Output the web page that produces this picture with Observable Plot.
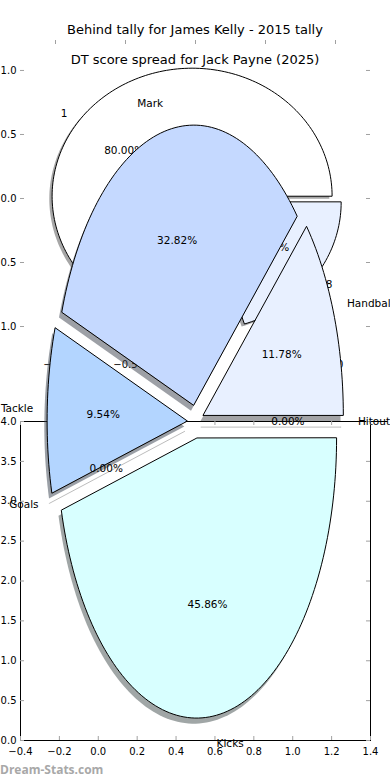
<!DOCTYPE html>
<html>
<head>
<meta charset="utf-8">
<script src="https://cdn.jsdelivr.net/npm/d3@7"></script>
<script src="https://cdn.jsdelivr.net/npm/@observablehq/plot@0.6"></script>
<style>
  html, body { margin: 0; padding: 0; background: white; overflow: hidden; }
  #wrap { position: relative; width: 390px; height: 780px; overflow: hidden; background: white; font-family: "DejaVu Sans", sans-serif; }
  .layer { position: absolute; left: 0; top: 0; }
  .layer svg { background: transparent !important; }
  .title { position: absolute; left: 0; width: 390px; text-align: center; font-size: 13px; line-height: 15px; color: #000; }
  #wm { position: absolute; left: 0; top: 762px; font-family: "Open Sans", sans-serif; font-size: 12px; font-weight: bold; color: #a8a8a8; line-height: 16px; }
</style>
</head>
<body>
<div id="wrap">
  <div id="f1" class="layer"></div>
  <div id="t1" class="title" style="top:22px"></div>
  <div id="f2" class="layer"></div>
  <div id="t2" class="title" style="top:52px"></div>
  <div id="wm"></div>
</div>
<script>
// ---------- data ----------
const fig1Title = "Behind tally for James Kelly - 2015 tally";
const fig1Labels = ["1", "8"];
const fig1Values = [80, 20];
const fig1Colors = ["#ffffff", "#e8f0ff"];
const fig1Explode = [0.03, 0.05];
const fig1Ticks = [-1, -0.5, 0, 0.5, 1];

const fig2Title = "DT score spread for Jack Payne (2025)";
const fig2Labels = ["Hitout", "Handball", "Mark", "Tackle", "Goals", "Kicks"];
const fig2Values = [0, 11.78, 32.82, 9.54, 0, 45.86];
const fig2Colors = ["#e8f0ff", "#e8f0ff", "#c5d9ff", "#b3d5ff", "#d8ffff", "#d8ffff"];
const fig2Explode = [0.06, 0.06, 0.06, 0.06, 0.06, 0.06];
const fig2XTicks = [-0.4, -0.2, 0.0, 0.2, 0.4, 0.6, 0.8, 1.0, 1.2, 1.4];
const fig2YTicks = [0.0, 0.5, 1.0, 1.5, 2.0, 2.5, 3.0, 3.5, 4.0];

const watermark = "Dream-Stats.com";

// ---------- helpers ----------
const fmt = d3.format(".1f");
const pctFmt = v => v.toFixed(2) + "%";

function layout(values, explode, cx, cy, rx, ry) {
  const total = d3.sum(values);
  let a = 0;
  return values.map((v, i) => {
    const a0 = a, a1 = a + 360 * v / total; a = a1;
    const m = (a0 + a1) / 2 * Math.PI / 180;
    const e = explode[i];
    const ox = cx + e * rx * Math.cos(m), oy = cy + e * ry * Math.sin(m);
    return {i, v, a0, a1, m, ox, oy, rx, ry,
      lx: ox + 1.1 * rx * Math.cos(m), ly: oy + 1.1 * ry * Math.sin(m),
      px: ox + 0.6 * rx * Math.cos(m), py: oy + 0.6 * ry * Math.sin(m),
      right: Math.cos(m) >= 0};
  });
}
function wedge(s, dx = 0, dy = 0) {
  const pts = [{x: s.ox + dx, y: s.oy + dy}];
  const n = Math.max(1, Math.ceil((s.a1 - s.a0) / 1.5));
  for (let k = 0; k <= n; k++) {
    const t = (s.a0 + (s.a1 - s.a0) * k / n) * Math.PI / 180;
    pts.push({x: s.ox + dx + s.rx * Math.cos(t), y: s.oy + dy + s.ry * Math.sin(t)});
  }
  return pts;
}
function shade(c) {
  const r = d3.rgb(c);
  return d3.rgb(r.r * 0.3, r.g * 0.3, r.b * 0.3).formatHex();
}
function pieMarks(slices, colors, labels, sdx, sdy, fontSize) {
  const marks = [];
  slices.forEach(s => {
    if (s.v > 0) marks.push(Plot.line(wedge(s, sdx, sdy), {x: "x", y: "y", curve: "linear-closed", fill: shade(colors[s.i]), fillOpacity: 0.5, stroke: "none"}));
    else marks.push(Plot.line(wedge(s, sdx, sdy), {x: "x", y: "y", stroke: "#bdbdbd", strokeWidth: 1}));
  });
  slices.forEach(s => {
    if (s.v > 0) marks.push(Plot.line(wedge(s), {x: "x", y: "y", curve: "linear-closed", fill: colors[s.i], stroke: "black", strokeWidth: 1}));
  });
  const lab = slices.map(s => ({x: s.lx, y: s.ly, t: labels[s.i], right: s.right}));
  marks.push(Plot.text(lab.filter(d => d.right), {x: "x", y: "y", text: "t", textAnchor: "start", fontSize}));
  marks.push(Plot.text(lab.filter(d => !d.right), {x: "x", y: "y", text: "t", textAnchor: "end", fontSize}));
  marks.push(Plot.text(slices, {x: "px", y: "py", text: d => pctFmt(d.v), fontSize}));
  return marks;
}

document.getElementById("t1").textContent = fig1Title;
document.getElementById("t2").textContent = fig2Title;
document.getElementById("wm").textContent = watermark;

const W = 390, H = 780;
const styleObj = {fontFamily: "DejaVu Sans", fontSize: "10px", background: "transparent", overflow: "visible", color: "black"};

// ---------- figure 1 ----------
{
  const mT = 40, mB = H - 357, mL = 20, mR = 20;
  const pw = W - mL - mR, ph = H - mT - mB;
  const slices = layout(fig1Values, fig1Explode, 0, 0, 1, 1);
  const p = Plot.plot({
    width: W, height: H, marginTop: mT, marginBottom: mB, marginLeft: mL, marginRight: mR,
    style: styleObj,
    x: {domain: [-1.25, 1.25]},
    y: {domain: [-1.242, 1.234]},
    marks: [
      Plot.axisY(fig1Ticks, {anchor: "left", tickSize: 0, tickPadding: 4, label: null, tickFormat: fmt}),
      Plot.axisX(fig1Ticks, {anchor: "bottom", tickSize: 0, tickPadding: 3, label: null, tickFormat: fmt}),
      Plot.tickY(fig1Ticks, {y: d => d, insetRight: pw - 4, stroke: "#a0a0a0"}),
      Plot.tickY(fig1Ticks, {y: d => d, insetLeft: pw - 4, stroke: "#a0a0a0"}),
      Plot.tickX(fig1Ticks, {x: d => d, insetBottom: ph - 4, stroke: "#a0a0a0"}),
      Plot.tickX(fig1Ticks, {x: d => d, insetTop: ph - 4, stroke: "#a0a0a0"}),
      ...pieMarks(slices, fig1Colors, fig1Labels, -0.02, -0.02, 10.5)
    ]
  });
  document.getElementById("f1").appendChild(p);
}

// ---------- figure 2 ----------
{
  const mT = 421, mB = H - 740, mL = 20, mR = 20;
  const pw = W - mL - mR, ph = H - mT - mB;
  const rx = 0.72, ry = 3.51;
  const slices = layout(fig2Values, fig2Explode, 0.5, 4.0, rx, ry);
  const p = Plot.plot({
    width: W, height: H, marginTop: mT, marginBottom: mB, marginLeft: mL, marginRight: mR,
    style: styleObj,
    x: {domain: [-0.4, 1.4]},
    y: {domain: [0, 4]},
    marks: [
      Plot.frame({stroke: "black"}),
      Plot.ruleY([4], {x1: 1.4, x2: 1.49, stroke: "black"}),
      Plot.axisY(fig2YTicks, {anchor: "left", tickSize: 0, tickPadding: 4, label: null, tickFormat: fmt}),
      Plot.axisX(fig2XTicks, {anchor: "bottom", tickSize: 0, tickPadding: 7, label: null, tickFormat: fmt}),
      Plot.tickY(fig2YTicks, {y: d => d, insetRight: pw - 4, stroke: "#a0a0a0"}),
      Plot.tickY(fig2YTicks, {y: d => d, insetLeft: pw - 4, stroke: "#a0a0a0"}),
      Plot.tickX(fig2XTicks, {x: d => d, insetBottom: ph - 4, stroke: "#a0a0a0"}),
      Plot.tickX(fig2XTicks, {x: d => d, insetTop: ph - 4, stroke: "#a0a0a0"}),
      ...pieMarks(slices, fig2Colors, fig2Labels, -0.02 * rx, -0.02 * ry, 10.5)
    ]
  });
  document.getElementById("f2").appendChild(p);
}
</script>
</body>
</html>
